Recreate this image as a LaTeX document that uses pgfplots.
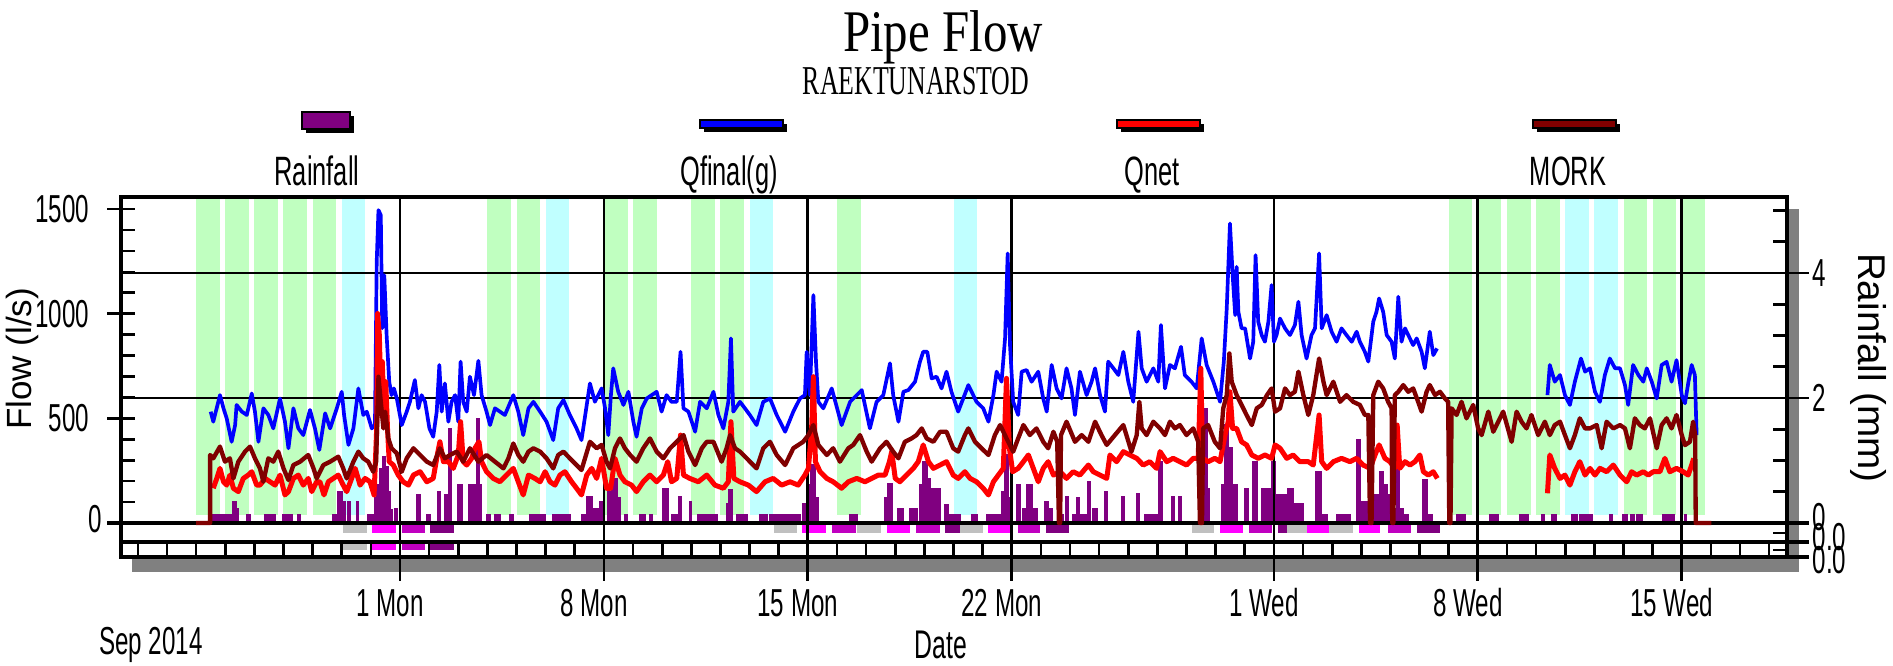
\documentclass[border=0pt]{standalone}
\usepackage{fontspec}
\usepackage{pgfplots}
\pgfplotsset{compat=1.18}
\setmainfont{Liberation Sans}
\newfontfamily\cf[FakeStretch=0.62]{Liberation Sans}
\newfontfamily\lsans{Liberation Sans}
\newfontfamily\ttl[FakeStretch=0.83]{Liberation Serif}
\newfontfamily\sttl[FakeStretch=0.63]{Liberation Serif}
\definecolor{bgreen}{HTML}{C0FFC0}
\definecolor{bcyan}{HTML}{C0FFFF}
\definecolor{rainc}{HTML}{800080}
\definecolor{qfin}{HTML}{0000FF}
\definecolor{qnet}{HTML}{FF0000}
\definecolor{mork}{HTML}{800000}
\definecolor{sgray}{HTML}{C0C0C0}
\definecolor{smag}{HTML}{FF00FF}
\definecolor{smed}{HTML}{C000C0}
\definecolor{shadowc}{HTML}{808080}
\newcommand\band[3]{\addplot[draw=none,fill=#1] coordinates {(#2,0.12) (#3,0.12) (#3,5.3) (#2,5.3)} -- cycle;}
\newcommand\srect[5]{\addplot[draw=none,fill=#1] coordinates {(#2,#4) (#3,#4) (#3,#5) (#2,#5)} -- cycle;}
\newcommand\tfont{\cf\fontsize{11.7}{12}\selectfont}
\begin{document}
\begin{tikzpicture}
\path[use as bounding box] (0,0) rectangle (567.9pt,-199.8pt);
\begin{scope}[x=0.3pt,y=-0.3pt]
\fill[shadowc] (132,557) rectangle (1799,572);
\fill[shadowc] (1787,209) rectangle (1799,572);
\end{scope}
% ---------------- Rainfall axis (right) ----------------
\begin{axis}[at={(36.3pt,-167.1pt)},anchor=south west,
 width=499.8pt,height=108pt,scale only axis,
 xmin=-9.578,xmax=47.614,ymin=-0.544,ymax=5.216,
 axis x line=none, axis y line*=right, xtick=\empty,
 axis line style={-,line width=1pt},
 ytick={0,2,4}, yticklabels={\raisebox{3.6pt}{0},2,4},
 minor ytick={0.5,1,1.5,2.5,3,3.5,4.5,5},
 tick align=inside, major tick length=4.2pt, minor tick length=4.2pt,
 tick style={line width=0.8pt,black},
 yticklabel style={font=\tfont, anchor=west, inner sep=0pt, xshift=7.5pt},
]
\band{bgreen}{-7}{-6.19}\band{bgreen}{-6}{-5.19}\band{bgreen}{-5}{-4.19}\band{bgreen}{-4}{-3.19}\band{bgreen}{-3}{-2.19}
\band{bcyan}{-2}{-1.19}
\band{bgreen}{3}{3.81}\band{bgreen}{4}{4.81}\band{bcyan}{5}{5.81}
\band{bgreen}{7}{7.81}\band{bgreen}{8}{8.81}
\band{bgreen}{10}{10.81}\band{bgreen}{11}{11.81}\band{bcyan}{12}{12.81}
\band{bgreen}{15}{15.81}\band{bcyan}{19}{19.81}
\band{bgreen}{36}{36.81}\band{bgreen}{37}{37.81}\band{bgreen}{38}{38.81}\band{bgreen}{39}{39.81}
\band{bcyan}{40}{40.81}\band{bcyan}{41}{41.81}
\band{bgreen}{42}{42.81}\band{bgreen}{43}{43.81}\band{bgreen}{44}{44.81}
% strip rectangles row 1
\srect{sgray}{-1.95}{-1.15}{-0.032}{-0.155}
\srect{smag}{-0.95}{-0.14}{-0.032}{-0.155}
\srect{smed}{0.06}{0.86}{-0.032}{-0.155}
\srect{rainc}{1.03}{1.86}{-0.032}{-0.155}
\srect{sgray}{12.85}{13.62}{-0.032}{-0.155}
\srect{smag}{13.8}{14.62}{-0.032}{-0.155}
\srect{smed}{14.84}{15.64}{-0.032}{-0.155}
\srect{sgray}{15.7}{16.5}{-0.032}{-0.155}
\srect{smag}{16.73}{17.5}{-0.032}{-0.155}
\srect{smed}{17.7}{18.54}{-0.032}{-0.155}
\srect{rainc}{18.7}{19.5}{-0.032}{-0.155}
\srect{sgray}{19.22}{20.0}{-0.032}{-0.155}
\srect{smag}{20.2}{20.94}{-0.032}{-0.155}
\srect{smed}{21.2}{21.97}{-0.032}{-0.155}
\srect{rainc}{22.18}{22.98}{-0.032}{-0.155}
\srect{sgray}{27.18}{27.94}{-0.032}{-0.155}
\srect{smag}{28.16}{28.94}{-0.032}{-0.155}
\srect{smed}{29.16}{29.93}{-0.032}{-0.155}
\srect{rainc}{30.15}{30.95}{-0.032}{-0.155}
\srect{sgray}{30.46}{31.2}{-0.032}{-0.155}
\srect{smag}{31.15}{31.9}{-0.032}{-0.155}
\srect{sgray}{31.9}{32.7}{-0.032}{-0.155}
\srect{smag}{32.92}{33.65}{-0.032}{-0.155}
\srect{smed}{33.9}{34.7}{-0.032}{-0.155}
\srect{rainc}{34.9}{35.7}{-0.032}{-0.155}
% strip rectangles row 2
\srect{sgray}{-1.95}{-1.15}{-0.325}{-0.432}
\srect{smag}{-0.95}{-0.14}{-0.325}{-0.432}
\srect{smed}{0.06}{0.86}{-0.325}{-0.432}
\srect{rainc}{1.03}{1.86}{-0.325}{-0.432}
% rainfall
\addplot[const plot, fill=rainc, draw=rainc, line width=0.6pt] coordinates {
(-7.0,0)
(-6.41,0.13)(-6.18,0)(-6.12,0.13)(-5.78,0)(-5.72,0.34)(-5.64,0.23)(-5.57,0)
(-5.26,0.13)(-5.15,0)(-4.63,0.13)(-4.29,0)(-4.0,0.13)(-3.72,0)(-3.49,0.13)(-3.43,0)
(-2.29,0.13)(-2.17,0)(-2.12,0.5)(-2.0,0)(-1.95,0.34)(-1.89,0)(-1.77,0.34)(-1.72,0)
(-1.49,0.34)(-1.43,0)(-1.09,0.13)(-0.92,0)
(-0.86,0.4)(-0.78,0.6)(-0.69,0.87)(-0.59,1.05)(-0.5,0.9)(-0.42,0.5)(-0.34,0.2)(-0.27,0)
(-0.17,0.23)(-0.11,0)(0.57,0.45)(0.69,0)(0.92,0.13)(1.03,0)(1.32,0.5)(1.37,0)
(1.54,0.45)(1.6,0)(1.69,1.5)(1.76,0)(2.0,0.6)(2.12,0)
(2.38,0.6)(2.65,1.67)(2.72,0.6)(2.77,0)(2.97,0.13)(3.09,0)(3.26,0.13)(3.43,0)
(3.78,0.13)(3.89,0)(4.46,0.13)(4.98,0)(5.26,0.13)(5.32,0)(5.38,0.13)(5.84,0)
(6.24,0.13)(6.35,0)(6.41,0.42)(6.58,0)(6.64,0.23)(6.81,0)(6.86,0.34)(6.98,0)
(7.15,0.5)(7.27,0.71)(7.44,0.4)(7.55,0)(7.72,0.13)(7.78,0)(8.24,0.13)(8.41,0)
(8.58,0.13)(8.64,0)(9.04,0.55)(9.21,0)(9.32,0.13)(9.55,0)(9.59,0.42)(9.66,0)
(9.95,0.34)(10.0,0)(10.24,0.13)(10.87,0)(11.21,0.3)(11.3,0.53)(11.39,0)
(11.56,0.13)(11.9,0)(12.36,0.13)(12.59,0)(12.7,0.13)(13.73,0)
(13.84,0.3)(13.96,0.6)(14.1,0.93)(14.23,0.4)(14.36,0)(15.45,0.13)(15.68,0)
(16.65,0.4)(16.76,0.63)(16.88,0)(17.11,0.23)(17.28,0)(17.5,0.23)(17.73,0)
(17.85,0.6)(17.96,0.98)(18.08,0.7)(18.19,0.55)(18.54,0)
(18.71,0.29)(18.82,0.13)(19.22,0)(19.62,0.13)(19.79,0)
(20.14,0.13)(20.65,0.5)(20.77,1.09)(20.88,0.4)(20.94,0)(21.17,0.61)(21.28,0)
(21.4,0.23)(21.51,0.61)(21.68,0.23)(21.85,0)(22.14,0.34)(22.25,0.23)(22.37,0)
(22.65,0.13)(22.77,0)(22.86,0.42)(22.93,0)(23.11,0.13)(23.25,0.4)(23.32,0.13)(23.57,0)
(23.6,0.66)(23.68,0)(23.8,0.23)(23.91,0)(24.2,0.5)(24.27,0)(24.79,0.42)(24.86,0)
(25.31,0.47)(25.38,0)(25.57,0.13)(26.06,0.98)(26.15,0)(26.51,0.42)(26.58,0)
(26.74,0.42)(26.81,0)(27.46,0.13)(27.6,1.83)(27.69,0.55)(27.78,0)
(28.2,0.6)(28.32,1.57)(28.43,1.2)(28.55,0.6)(28.72,0)(29.0,0.55)(29.12,0)
(29.29,0.98)(29.43,0)(29.58,0.55)(29.92,0.98)(30.04,0.45)(30.49,0.55)(30.66,0.3)(31.0,0)
(31.46,0.82)(31.6,0)(31.7,0.13)(31.81,0)(32.15,0.13)(32.61,0)(32.84,1.33)(32.96,0)
(33.0,0.34)(33.24,0)(33.35,0.45)(33.64,0.82)(33.75,0.6)(33.87,0.45)(33.98,0.23)(34.15,0)
(34.21,0.87)(34.3,0.23)(34.44,0.13)(34.61,0)(35.13,0.69)(35.24,0.13)(35.41,0)
(36.27,0.13)(36.56,0)(37.41,0.13)(37.69,0)(38.44,0.13)(38.73,0)(39.21,0.13)(39.28,0)
(39.55,0.13)(39.67,0)(40.22,0.13)(40.39,0)(40.5,0.13)(40.93,0)(41.53,0.13)(41.61,0)
(41.97,0.13)(42.11,0)(42.24,0.13)(42.36,0)(42.45,0.13)(42.62,0)(43.36,0.13)(43.48,0)
(43.57,0.13)(43.74,0)(44.11,0.13)(44.16,0)(45.0,0)
} -- cycle;
\end{axis}
% ---------------- structural lines ----------------
\begin{scope}[x=0.3pt,y=-0.3pt,line width=0.8pt]
\draw (121,273) -- (1809,273);
\draw (121,398) -- (1809,398);
\draw[line width=1pt] (107,523) -- (1809,523);
\draw[line width=1pt] (121,542) -- (1809,542);
\foreach \X in {400,603.9,807.8,1011.7,1273.9,1477.8,1681.7} \draw (\X,197) -- (\X,581);
\end{scope}
% ---------------- Flow axis (left) ----------------
\begin{axis}[at={(36.3pt,-167.1pt)},anchor=south west,
 width=499.8pt,height=108pt,scale only axis,
 xmin=-9.578,xmax=47.614,ymin=-162.4,ymax=1557.6,
 axis line style={line width=1pt},
 xtick={0,7,14,21,30,37,44},
 xticklabels={1 Mon,8 Mon,15 Mon,22 Mon,1 Wed,8 Wed,15 Wed},
 minor xtick={-9,-8,...,47},
 xtick pos=left, ytick pos=left,
 ytick={0,500,1000,1500},
 yticklabels={\raisebox{2.4pt}{0}\hspace*{-4.5pt},500,1000,1500},
 minor ytick={100,200,...,1500},
 tick align=inside, major tick length=4.2pt, minor tick length=4.2pt,
 tick style={line width=0.8pt,black},
 xticklabel style={font=\tfont, anchor=center, yshift=-13.8pt, xshift=-3pt},
 yticklabel style={font=\tfont, anchor=east, inner sep=0pt, xshift=-9.3pt},
 /pgf/number format/assume math mode=true,
]
% Qfinal(g)
\addplot[qfin, line width=1.1pt, line join=round] coordinates {
(-6.50,532)(-6.41,484)(-6.18,611)(-6.06,548)(-5.95,500)(-5.78,388)(-5.66,468)(-5.61,564)(-5.43,532)(-5.26,516)(-5.09,619)(-4.98,532)(-4.86,388)(-4.69,548)(-4.52,516)(-4.35,452)(-4.12,595)(-3.95,484)(-3.83,357)(-3.66,548)(-3.49,452)(-3.32,420)(-3.09,540)(-2.92,452)(-2.77,349)(-2.57,524)(-2.40,452)(-2.17,548)(-2.00,627)(-1.92,516)(-1.77,373)(-1.60,452)(-1.43,643)(-1.26,516)(-1.14,532)(-0.97,452)(-0.86,468)(-0.80,1248)(-0.74,1495)(-0.66,1471)(-0.61,930)(-0.54,1184)(-0.46,898)(-0.37,675)(-0.29,611)(-0.21,643)(-0.11,595)(0.06,468)(0.23,532)(0.34,579)(0.51,683)(0.63,548)(0.74,611)(0.86,579)(1.01,452)(1.14,412)(1.26,532)(1.35,755)(1.43,532)(1.54,667)(1.66,484)(1.77,579)(1.89,611)(2.00,484)(2.08,771)(2.17,579)(2.29,532)(2.40,699)(2.54,611)(2.69,775)(2.80,611)(2.97,532)(3.09,468)(3.26,548)(3.43,532)(3.60,516)(3.89,611)(4.06,532)(4.23,420)(4.41,548)(4.58,579)(4.81,532)
(5.03,484)(5.26,396)(5.43,548)(5.61,587)(5.83,516)(6.06,452)(6.23,396)(6.52,667)(6.69,579)(6.92,643)(7.04,548)(7.15,420)(7.24,611)(7.32,739)(7.49,627)(7.67,564)(7.84,627)(8.01,484)(8.12,412)(8.30,548)(8.47,595)(8.64,611)(8.81,627)(8.98,532)(9.15,611)(9.32,579)(9.50,579)(9.63,818)(9.73,548)(9.90,532)(10.13,436)(10.30,579)(10.53,548)(10.76,627)(10.93,516)(11.10,452)(11.27,579)(11.36,882)(11.44,532)(11.67,579)(11.84,548)(12.01,516)(12.24,468)(12.47,579)(12.70,595)(12.93,516)(13.22,436)(13.50,532)(13.73,595)(13.90,611)(13.96,818)(14.07,611)(14.19,1089)(14.28,771)(14.36,579)(14.53,548)(14.82,643)(15.16,468)(15.45,579)(15.68,611)(15.85,635)(16.13,452)(16.36,579)(16.59,611)(16.82,763)(16.93,611)(17.11,484)(17.28,627)(17.45,635)(17.68,675)(17.85,771)(17.96,818)(18.10,818)(18.25,691)(18.42,699)(18.59,643)(18.76,723)(18.93,627)(19.16,532)
(19.51,659)(19.79,579)(20.02,548)(20.20,484)(20.37,611)(20.48,723)(20.65,675)(20.77,882)(20.86,1288)(20.94,850)(21.05,579)(21.22,516)(21.34,723)(21.51,731)(21.68,675)(21.91,723)(22.08,595)(22.20,532)(22.37,755)(22.54,643)(22.71,595)(22.88,739)(23.05,643)(23.17,516)(23.34,723)(23.57,611)(23.74,675)(23.86,739)(24.03,611)(24.20,532)(24.31,771)(24.49,739)(24.66,707)(24.83,818)(25.00,675)(25.17,579)(25.35,914)(25.46,739)(25.63,675)(25.86,739)(26.03,675)(26.12,946)(26.26,643)(26.43,755)(26.60,739)(26.81,842)(26.94,707)(27.17,675)(27.35,643)(27.52,882)(27.69,755)(27.92,675)(28.15,579)(28.28,771)(28.38,1025)(28.49,1431)(28.59,1169)(28.67,993)(28.72,1224)(28.78,1009)(28.89,930)(29.01,930)(29.18,786)(29.29,866)(29.37,1280)(29.46,962)(29.58,898)(29.69,866)(29.81,962)(29.92,1137)(30.00,866)(30.09,898)(30.21,977)(30.38,930)(30.55,898)(30.72,946)(30.84,1057)(30.95,898)(31.12,786)(31.29,898)(31.41,930)(31.55,1288)(31.64,930)(31.81,993)(31.98,914)(32.15,866)(32.32,930)(32.49,898)(32.67,866)(32.84,914)(32.95,866)(33.12,818)(33.24,771)(33.41,962)(33.52,1009)(33.61,1073)
(33.75,1009)(33.87,898)(34.04,866)(34.15,786)(34.27,1081)(34.38,866)(34.50,930)(34.61,898)(34.78,850)(34.90,882)(35.07,818)(35.18,739)(35.35,914)(35.47,802)(35.60,834)
};
\addplot[qfin, line width=1.1pt, line join=round] coordinates {
(39.39,611)(39.47,755)(39.64,675)(39.82,707)(39.99,611)(40.16,564)(40.33,675)(40.54,786)(40.68,723)(40.85,739)(41.02,627)(41.19,579)(41.36,707)(41.53,786)(41.71,739)(41.88,739)(42.05,659)(42.16,564)(42.33,755)(42.51,707)(42.68,675)(42.80,739)(42.97,675)(43.14,595)(43.31,755)(43.48,770)(43.65,675)(43.82,778)(44.00,611)(44.11,572)(44.23,675)(44.34,755)(44.45,707)(44.51,420)
};
% Qnet
\addplot[qnet, line width=1.5pt, line join=round] coordinates {
(-6.41,166)(-6.29,213)(-6.18,261)(-6.06,197)(-5.95,181)(-5.84,229)(-5.72,166)(-5.55,150)(-5.38,213)(-5.21,229)(-5.09,245)(-4.92,181)(-4.81,181)(-4.63,213)(-4.46,197)(-4.29,181)(-4.12,229)(-3.95,134)(-3.83,150)(-3.66,213)(-3.49,229)(-3.32,181)(-3.15,213)(-3.03,150)(-2.86,197)(-2.75,197)(-2.61,134)(-2.46,197)(-2.29,213)(-2.12,229)(-1.95,181)(-1.83,150)(-1.66,213)(-1.54,261)(-1.37,181)(-1.20,213)(-1.03,197)(-0.89,134)(-0.80,452)(-0.77,1001)(-0.71,898)(-0.66,611)(-0.61,771)(-0.55,532)(-0.49,675)(-0.43,452)(-0.37,293)(-0.23,277)(-0.06,229)(0.11,197)(0.29,181)(0.46,229)(0.69,245)(0.92,197)(1.14,213)(1.28,325)(1.37,388)(1.49,293)(1.66,293)(1.83,261)(2.00,325)(2.08,484)(2.17,293)(2.29,277)(2.46,309)(2.57,357)(2.71,388)(2.80,293)(2.97,245)(3.20,213)(3.43,197)(3.66,229)(3.89,261)(4.06,197)(4.23,134)(4.41,229)(4.63,213)(4.81,197)
(4.98,245)(5.15,197)(5.32,181)(5.49,229)(5.66,245)(5.89,197)(6.06,166)(6.23,134)(6.41,229)(6.58,261)(6.75,213)(6.92,309)(7.09,166)(7.23,166)(7.38,309)(7.55,229)(7.72,197)(7.95,181)(8.12,150)(8.35,197)(8.58,229)(8.81,197)(9.04,229)(9.19,293)(9.32,197)(9.50,213)(9.63,420)(9.73,229)(9.95,213)(10.24,197)(10.53,229)(10.81,181)(11.10,166)(11.27,197)(11.36,484)(11.46,213)(11.67,197)(11.96,181)(12.24,150)(12.53,197)(12.81,213)(13.10,181)(13.39,197)(13.67,181)(13.90,229)(14.02,261)(14.13,452)(14.19,699)(14.26,293)(14.42,245)(14.65,213)(14.87,197)(15.16,166)(15.39,197)(15.68,213)(15.96,197)(16.19,213)(16.42,229)(16.65,229)(16.80,293)(16.88,341)(17.00,213)(17.16,197)(17.39,229)(17.62,261)(17.79,293)(17.96,373)(18.14,293)(18.31,261)(18.54,277)(18.76,293)(18.99,229)(19.16,213)
(19.39,245)(19.57,213)(19.79,197)(20.02,166)(20.20,134)(20.37,197)(20.54,229)(20.71,261)(20.82,691)(20.92,357)(21.03,245)(21.22,261)(21.40,293)(21.57,325)(21.74,261)(21.91,197)(22.08,261)(22.25,293)(22.43,229)(22.66,245)(22.88,213)(23.11,245)(23.34,229)(23.63,277)(23.80,245)(24.03,229)(24.26,213)(24.37,325)(24.60,293)(24.83,341)(25.06,325)(25.29,309)(25.51,277)(25.74,293)(25.97,261)(26.09,341)(26.32,293)(26.54,309)(26.77,293)(27.00,277)(27.23,309)(27.40,309)(27.49,739)(27.55,309)(27.74,293)(27.97,309)(28.15,293)(28.32,420)(28.43,484)(28.49,627)(28.58,452)(28.72,452)(28.89,388)(29.06,373)(29.24,325)(29.46,309)(29.69,325)(29.92,309)(30.04,373)(30.21,357)(30.44,309)(30.66,325)(30.89,293)(31.18,293)(31.35,277)(31.55,516)(31.64,293)(31.81,261)(32.04,293)(32.32,309)(32.61,293)(32.84,309)(33.06,277)(33.30,261)(33.47,325)(33.61,373)
(33.81,309)(33.98,293)(34.15,261)(34.23,468)(34.32,261)(34.50,293)(34.67,277)(34.84,293)(35.01,325)(35.13,245)(35.30,229)(35.47,245)(35.61,213)
};
\addplot[qnet, line width=1.5pt, line join=round] coordinates {
(39.39,142)(39.47,325)(39.64,261)(39.82,213)(39.99,229)(40.16,181)(40.33,245)(40.50,293)(40.68,229)(40.85,261)(41.02,229)(41.19,261)(41.42,245)(41.65,277)(41.88,229)(42.11,197)(42.28,245)(42.45,229)(42.68,245)(42.85,229)(43.02,245)(43.25,245)(43.42,309)(43.59,245)(43.82,261)(44.05,245)(44.22,229)(44.34,277)(44.41,309)
};
% MORK
\addplot[mork, line width=1.3pt, line join=round] coordinates {
(-7.0,0)(-6.52,0)(-6.52,325)(-6.41,309)(-6.18,365)(-6.01,293)(-5.84,309)(-5.72,213)(-5.55,293)(-5.32,341)(-5.15,365)(-4.98,309)(-4.81,261)(-4.69,197)(-4.52,309)(-4.35,293)(-4.18,341)(-4.00,261)(-3.83,205)(-3.66,277)(-3.43,293)(-3.15,325)(-2.97,261)(-2.86,213)(-2.63,277)(-2.40,293)(-2.12,317)(-1.95,261)(-1.83,213)(-1.60,293)(-1.43,341)(-1.26,309)(-1.09,293)(-0.92,245)(-0.82,293)(-0.74,699)(-0.66,579)(-0.57,452)(-0.51,532)(-0.40,404)(-0.29,357)(-0.11,333)(0.06,245)(0.23,309)(0.46,357)(0.69,325)(0.92,293)(1.14,277)(1.37,357)(1.54,309)(1.72,325)(1.95,341)(2.17,293)(2.40,357)(2.69,293)(2.97,325)(3.26,293)(3.55,261)(3.72,309)(3.89,380)(4.06,325)(4.23,293)(4.41,341)(4.58,357)(4.81,341)
(5.03,309)(5.26,261)(5.43,325)(5.61,341)(5.83,309)(6.06,277)(6.23,253)(6.52,388)(6.75,357)(6.92,373)(7.09,293)(7.21,261)(7.38,357)(7.55,404)(7.72,357)(7.90,325)(8.12,293)(8.35,357)(8.58,404)(8.81,341)(9.04,309)(9.27,357)(9.50,388)(9.73,420)(9.90,341)(10.13,277)(10.36,357)(10.53,388)(10.76,388)(11.04,293)(11.21,357)(11.33,420)(11.50,357)(11.67,341)(11.90,309)(12.24,261)(12.47,357)(12.70,388)(12.93,325)(13.22,277)(13.50,357)(13.84,388)(14.02,420)(14.19,468)(14.36,373)(14.65,325)(14.87,357)(15.10,293)(15.39,357)(15.56,373)(15.79,420)(16.02,341)(16.19,293)(16.48,357)(16.70,388)(16.93,341)(17.11,309)(17.33,388)(17.56,404)(17.73,420)(17.91,452)(18.08,404)(18.31,388)(18.54,436)(18.76,436)(18.99,357)(19.16,341)
(19.39,420)(19.51,452)(19.74,388)(19.96,357)(20.20,325)(20.42,420)(20.60,468)(20.82,404)(21.05,341)(21.22,404)(21.40,468)(21.62,420)(21.85,452)(22.08,388)(22.25,357)(22.43,436)(22.56,388)(22.62,0)(22.66,0)(22.69,420)(22.88,484)(23.17,388)(23.40,420)(23.63,388)(23.86,484)(24.08,420)(24.26,373)(24.54,420)(24.83,468)(25.11,341)(25.29,420)(25.38,579)(25.46,452)(25.63,420)(25.86,484)(26.09,452)(26.26,420)(26.43,484)(26.60,452)(26.77,468)(27.00,420)(27.23,452)(27.40,388)(27.46,0)(27.53,0)(27.57,452)(27.74,468)(27.97,388)(28.15,357)(28.26,548)(28.38,611)(28.47,810)(28.55,675)(28.72,611)(28.89,564)(29.06,516)(29.24,468)(29.41,548)(29.58,564)(29.76,611)(29.92,643)(30.04,532)(30.21,548)(30.38,643)(30.55,611)(30.72,627)(30.84,723)(31.01,611)(31.18,516)(31.35,611)(31.55,786)(31.70,675)(31.81,611)(32.04,675)(32.27,579)(32.49,611)(32.72,579)(32.95,564)(33.12,516)(33.24,516)(33.30,0)(33.35,0)(33.41,611)(33.58,675)
(33.75,643)(33.92,579)(34.04,548)(34.06,0)(34.10,0)(34.15,611)(34.27,627)(34.44,659)(34.61,627)(34.78,643)(34.95,579)(35.07,532)(35.24,627)(35.35,659)(35.53,611)(35.70,627)(35.87,595)(35.98,579)(36.02,0)(36.06,0)(36.10,548)(36.27,516)(36.44,579)(36.61,500)(36.84,564)(37.01,452)(37.13,420)(37.36,532)(37.53,436)(37.70,484)(37.87,532)(38.16,388)(38.33,532)(38.50,484)(38.67,452)(38.84,516)(39.07,420)(39.30,484)(39.47,420)(39.64,468)(39.82,484)(39.99,420)(40.16,357)(40.33,420)(40.50,500)(40.68,452)(40.85,452)(41.08,468)(41.25,357)(41.42,484)(41.65,452)(41.88,468)(42.05,452)(42.22,357)(42.39,500)(42.56,468)(42.73,452)(42.91,500)(43.14,357)(43.31,468)(43.48,500)(43.65,452)(43.82,516)(44.00,420)(44.11,372)(44.28,388)(44.39,484)(44.46,420)(44.48,0)(45.02,0)
};
\end{axis}
% ---------------- decorations, titles, legend ----------------
\begin{scope}[x=0.3pt,y=-0.3pt]
\draw[line width=0.8pt] (107,209) -- (121,209) (107,313.7) -- (121,313.7) (107,418.35) -- (121,418.35);
\draw[line width=1pt] (1787,557) -- (1809,557);
\draw[line width=0.8pt] (1773,533) -- (1787,533) (1773,550) -- (1787,550);
\node[font=\tfont, anchor=west, inner sep=0pt] at (1812,537) {0.0};
\node[font=\tfont, anchor=west, inner sep=0pt] at (1812,560) {0.0};
\node[font=\lsans\fontsize{10.5}{11}\selectfont, rotate=90] at (22,359) {Flow (l/s)};
\node[font=\lsans\fontsize{11.6}{12}\selectfont, rotate=-90] at (1868,368) {Rainfall (mm)};
\node[font=\cf\fontsize{12}{13}\selectfont] at (941,645) {Date};
\node[font=\tfont] at (151,645) {Sep 2014};
\node[font=\ttl\fontsize{17.7}{18}\selectfont, anchor=base, inner sep=0pt] at (943,52) {Pipe Flow};
\node[font=\sttl\fontsize{12.3}{13}\selectfont, anchor=base, inner sep=0pt] at (916,95) {RAEKTUNARSTOD};
% legend swatches
\fill[black] (306,116) rectangle (354,133);
\filldraw[fill=rainc, draw=black, line width=0.7pt] (302,112) rectangle (350,129);
\fill[black] (704,124) rectangle (787,132);
\filldraw[fill=qfin, draw=black, line width=0.7pt] (700,120) rectangle (783,128);
\fill[black] (1121,124) rectangle (1204,132);
\filldraw[fill=qnet, draw=black, line width=0.7pt] (1117,120) rectangle (1200,128);
\fill[black] (1537,124) rectangle (1620,132);
\filldraw[fill=mork, draw=black, line width=0.7pt] (1533,120) rectangle (1616,128);
\node[font=\cf\fontsize{12.3}{13}\selectfont, anchor=base, inner sep=0pt] at (317,186) {Rainfall};
\node[font=\cf\fontsize{12.3}{13}\selectfont, anchor=base, inner sep=0pt] at (729,186) {Qfinal(g)};
\node[font=\cf\fontsize{12.3}{13}\selectfont, anchor=base, inner sep=0pt] at (1152,186) {Qnet};
\node[font=\cf\fontsize{12.3}{13}\selectfont, anchor=base, inner sep=0pt] at (1568,186) {MORK};
\end{scope}
\end{tikzpicture}
\end{document}
